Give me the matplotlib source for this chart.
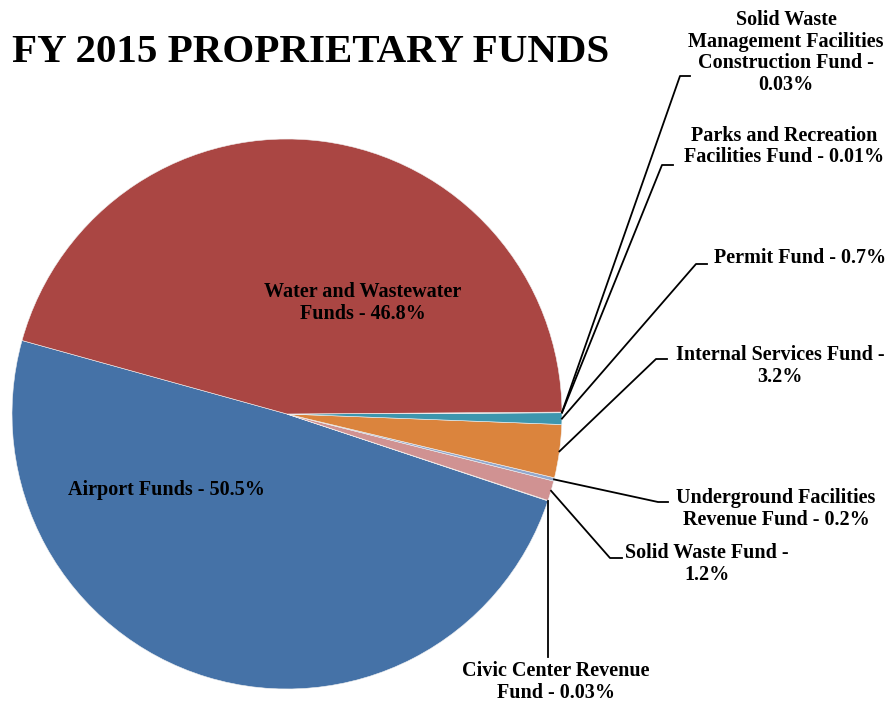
import matplotlib.pyplot as plt
import numpy as np

plt.rcParams['font.family'] = ['Liberation Serif', 'DejaVu Serif']

# slices, counter-clockwise starting at the airport/water boundary
funds = ["Airport", "Civic Center", "Solid Waste", "Underground", "Internal Services",
         "Permit", "Parks", "SW Management", "Water"]
values = [50.5, 0.03, 1.2, 0.2, 3.2, 0.7, 0.01, 0.03, 46.8]
colors = ["#4572A7", "#A47D7C", "#D09292", "#92A8CD", "#DB843D",
          "#3D96AE", "#89A54E", "#80699B", "#AA4643"]
label_texts = [
    "Airport Funds - 50.5%",
    "Civic Center Revenue\nFund - 0.03%",
    "Solid Waste Fund -\n1.2%",
    "Underground Facilities\nRevenue Fund - 0.2%",
    "Internal Services Fund -\n3.2%",
    "Permit Fund - 0.7%",
    "Parks and Recreation\nFacilities Fund - 0.01%",
    "Solid Waste\nManagement Facilities\nConstruction Fund -\n0.03%",
    "Water and Wastewater\nFunds - 46.8%",
]

W, H = 894, 704
cx, cy, r = 287, H - 414, 275

# label centre positions (pixels from top-left) and leader elbows (None = inside label)
label_pos = [(166, 490), (556, 682), (707, 564), (776, 509), (780, 366),
             (800, 258), (784, 146.5), (786, 52.5), (363, 303)]
elbows = [None, "vert", (610, 558, 12), (658, 502, 10), (656, 359, 11),
          (696, 264, 11), (662, 165, 11), (680, 76, 10), None]

fig = plt.figure(figsize=(W / 100, H / 100), dpi=100)
ax = fig.add_axes([0, 0, 1, 1])

wedges, _ = ax.pie(values, colors=colors, startangle=164.5, counterclock=True,
                   radius=r, center=(cx, cy),
                   wedgeprops=dict(edgecolor="#f2f2f2", linewidth=0.4))

ax.set_xlim(0, W)
ax.set_ylim(0, H)
ax.set_aspect("equal")
ax.axis("off")

for i, w in enumerate(wedges):
    lx, ly = label_pos[i]
    ax.text(lx, H - ly, label_texts[i], ha="center", va="center", multialignment="center",
            fontsize=14.5, fontweight="bold", linespacing=1.13, color="black")
    el = elbows[i]
    if el is None:
        continue
    theta = np.deg2rad((w.theta1 + w.theta2) / 2)
    px = cx + r * np.cos(theta)
    py = cy + r * np.sin(theta)
    if el == "vert":
        ax.plot([px, px], [py, H - 657], color="black", lw=1.3)
    else:
        ex, ey, dx = el
        ax.plot([px, ex, ex + dx], [py, H - ey, H - ey], color="black", lw=1.3)

ax.text(12, H - 62, "FY 2015 PROPRIETARY FUNDS", ha="left", va="baseline",
        fontsize=29.5, fontweight="bold", color="black")

fig.savefig("out.png", dpi=100)
